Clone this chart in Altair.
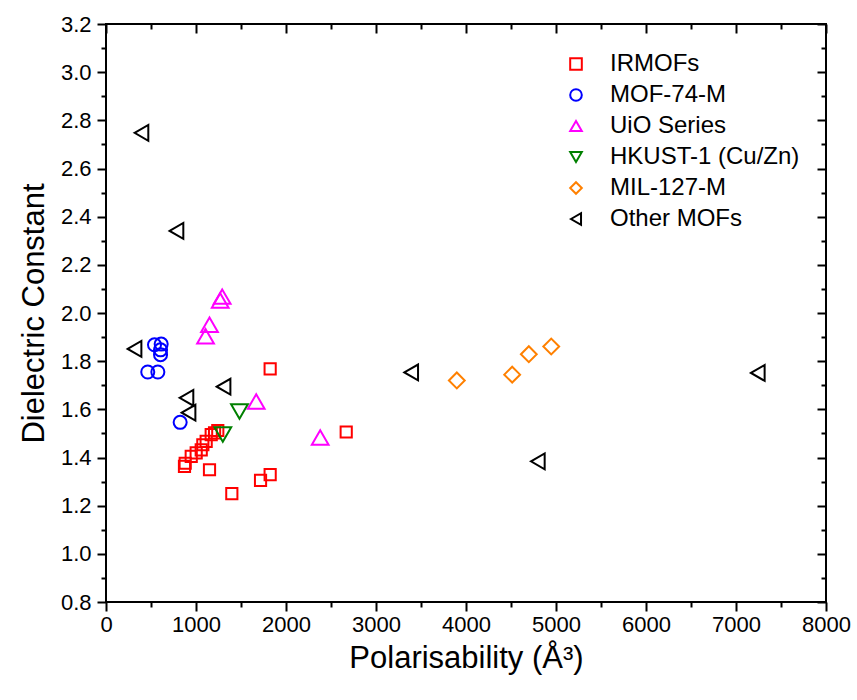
import altair as alt
import pandas as pd

# ---- data ----
groups = ["IRMOFs", "MOF-74-M", "UiO Series", "HKUST-1 (Cu/Zn)", "MIL-127-M", "Other MOFs"]
colors = ["#FF0000", "#0000FF", "#FF00FF", "#008000", "#FF8000", "#000000"]
shapes = ["square", "circle", "triangle-up", "triangle-down", "diamond", "triangle-left"]
marker_sizes = [125, 170, 280, 280, 250, 250]

irmof_x = [872, 880, 947, 1002, 1058, 1076, 1113, 1169, 1206, 1242, 1150, 1398, 1717, 1824, 1824, 2669]
irmof_y = [1.363, 1.376, 1.405, 1.419, 1.432, 1.453, 1.467, 1.495, 1.502, 1.512, 1.349, 1.250, 1.305, 1.329, 1.768, 1.506]

mof74_x = [539, 613, 606, 606, 464, 576, 824]
mof74_y = [1.868, 1.871, 1.847, 1.827, 1.755, 1.755, 1.546]

uio_x = [1291, 1269, 1150, 1106, 1669, 2380]
uio_y = [2.068, 2.052, 1.951, 1.903, 1.633, 1.483]

hkust_x = [1483, 1298]
hkust_y = [1.591, 1.495]

mil_x = [3898, 4513, 4698, 4947]
mil_y = [1.720, 1.744, 1.829, 1.861]

other_x = [394, 783, 317, 894, 917, 1306, 3391, 4798, 7242]
other_y = [2.748, 2.341, 1.851, 1.648, 1.586, 1.694, 1.753, 1.384, 1.751]

x_major = [0, 1000, 2000, 3000, 4000, 5000, 6000, 7000, 8000]
x_minor = [500, 1500, 2500, 3500, 4500, 5500, 6500, 7500]
y_major = [0.8, 1.0, 1.2, 1.4, 1.6, 1.8, 2.0, 2.2, 2.4, 2.6, 2.8, 3.0, 3.2]
y_minor = [0.9, 1.1, 1.3, 1.5, 1.7, 1.9, 2.1, 2.3, 2.5, 2.7, 2.9, 3.1]

series = [
    (groups[0], irmof_x, irmof_y),
    (groups[1], mof74_x, mof74_y),
    (groups[2], uio_x, uio_y),
    (groups[3], hkust_x, hkust_y),
    (groups[4], mil_x, mil_y),
    (groups[5], other_x, other_y),
]
rows = []
for g, xs_, ys_ in series:
    for a, b in zip(xs_, ys_):
        rows.append({"group": g, "pol": a, "eps": b})
df = pd.DataFrame(rows)

FONT = "Liberation Sans"
MAJ = 9
MIN = 5

xscale = alt.Scale(domain=[0, 8000], nice=False, zero=False)
yscale = alt.Scale(domain=[0.8, 3.2], nice=False, zero=False)

x_enc = alt.X("pol:Q", scale=xscale,
              title="Polarisability (Å³)",
              axis=alt.Axis(orient="bottom", values=sorted(x_major + x_minor), format="d",
                            labelExpr="datum.value % 1000 === 0 ? datum.label : ''",
                            tickSize={"condition": {"test": "datum.value % 1000 === 0", "value": MAJ}, "value": MIN},
                            domain=False, grid=False, tickWidth=2, tickColor="black",
                            labelFont=FONT, labelFontSize=22, labelColor="black", labelPadding=3,
                            titleFont=FONT, titleFontSize=31, titleFontWeight="normal",
                            titleColor="black", titlePadding=8, labelFlush=False, labelOverlap=False))
y_enc = alt.Y("eps:Q", scale=yscale,
              title="Dielectric Constant",
              axis=alt.Axis(orient="left", values=sorted(y_major + y_minor), format=".1f",
                            labelExpr="round(datum.value * 10) % 2 === 0 ? datum.label : ''",
                            tickSize={"condition": {"test": "round(datum.value * 10) % 2 === 0", "value": MAJ}, "value": MIN},
                            domain=False, grid=False, tickWidth=2, tickColor="black",
                            labelFont=FONT, labelFontSize=22, labelColor="black", labelPadding=6,
                            titleFont=FONT, titleFontSize=31, titleFontWeight="normal",
                            titleColor="black", titlePadding=10, labelFlush=False, labelOverlap=False))
legend = alt.Legend(title=None, orient="none", legendX=458, legendY=28,
                    labelFont=FONT, labelFontSize=24, labelColor="black",
                    labelOffset=22, rowPadding=7, padding=0, labelLimit=0,
                    symbolSize=135, symbolStrokeWidth=2)
c_enc = alt.Color("group:N", scale=alt.Scale(domain=groups, range=colors), legend=legend)
s_enc = alt.Shape("group:N", scale=alt.Scale(domain=groups, range=shapes), legend=legend)

layers = []
for g, s in zip(groups, marker_sizes):
    layers.append(
        alt.Chart(df).transform_filter(alt.datum.group == g)
        .mark_point(filled=False, strokeWidth=2, opacity=1, size=s)
        .encode(x=x_enc, y=y_enc, color=c_enc, shape=s_enc)
    )
points = alt.layer(*layers)


def frame_ticks(xv, yv, size):
    return alt.Chart(df).mark_point(opacity=0).encode(
        x=alt.X("pol:Q", scale=xscale, title=None,
                axis=alt.Axis(orient="top", values=xv, labels=False, tickSize=size, offset=-size,
                              domain=False, grid=False, tickWidth=2, tickColor="black")),
        y=alt.Y("eps:Q", scale=yscale, title=None,
                axis=alt.Axis(orient="right", values=yv, labels=False, tickSize=size, offset=-size,
                              domain=False, grid=False, tickWidth=2, tickColor="black")),
    )


chart = alt.layer(
    points,
    frame_ticks(x_major, y_major, MAJ),
    frame_ticks(x_minor, y_minor, MIN),
).resolve_axis(x="independent", y="independent").properties(
    width=720, height=578,
    padding={"left": 18, "top": 13, "right": 5, "bottom": 5},
    background="white",
).configure_view(stroke="black", strokeWidth=2)

chart.save("out.html", embed_options={"renderer": "svg", "actions": False})
